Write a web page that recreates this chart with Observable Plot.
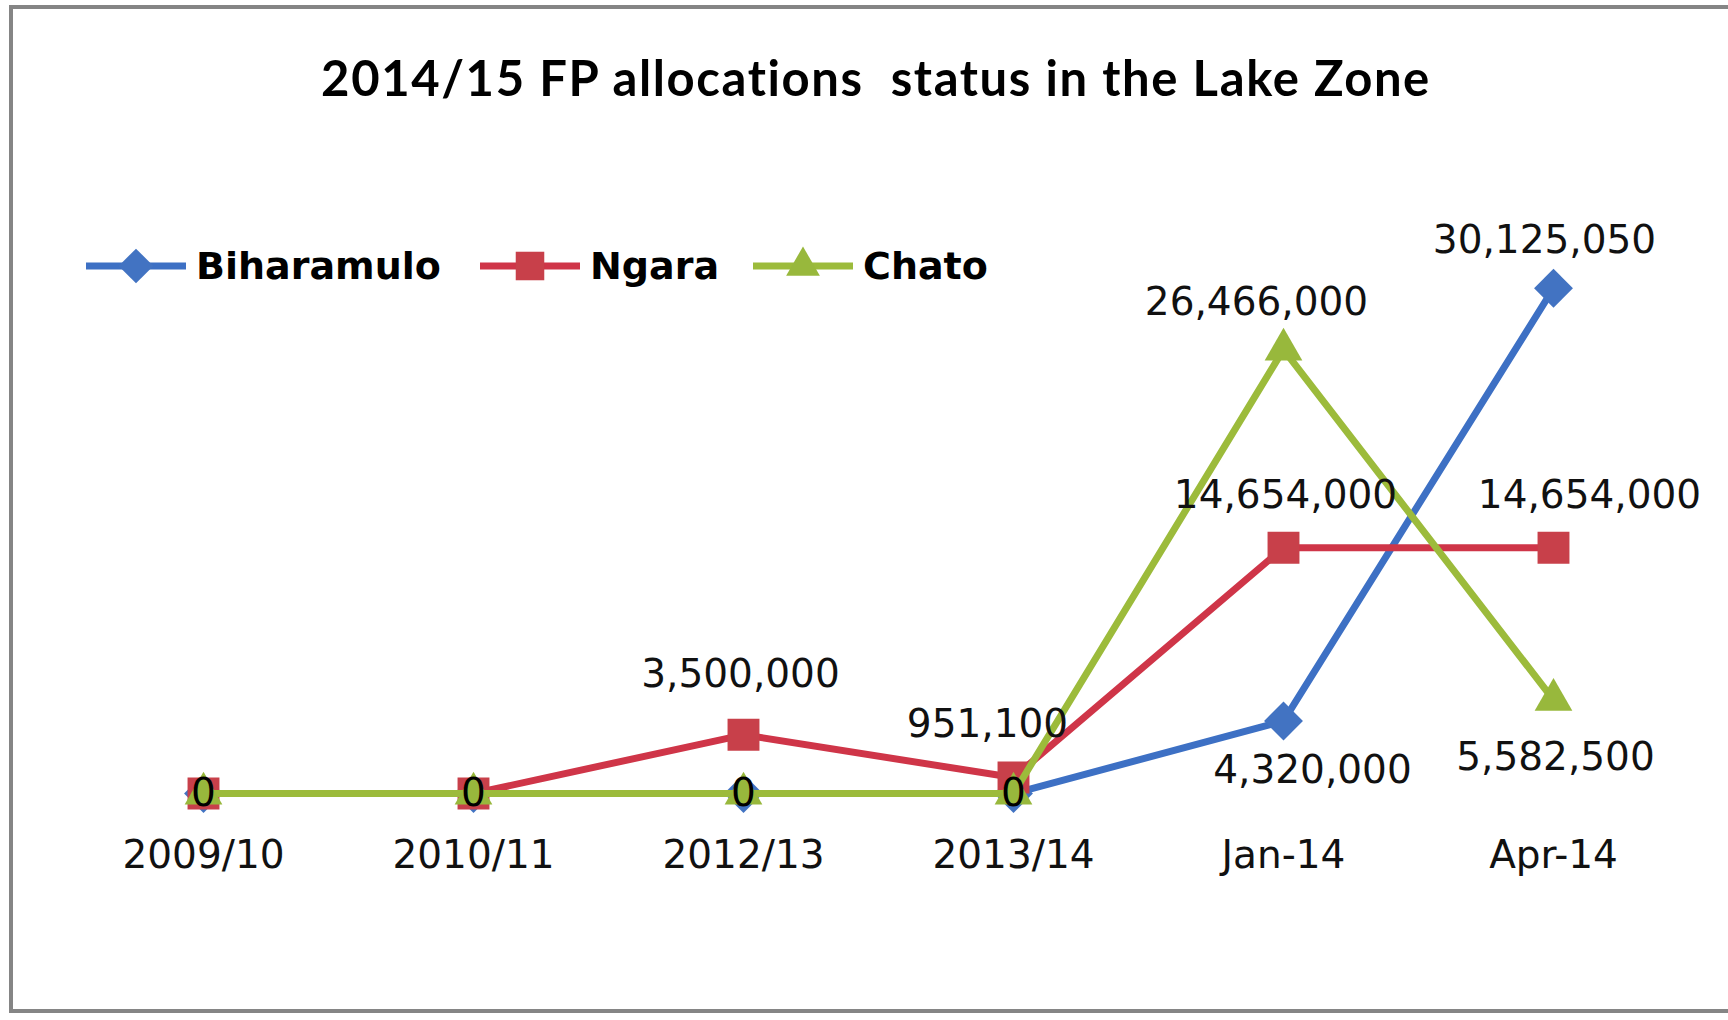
<!DOCTYPE html>
<html>
<head>
<meta charset="utf-8">
<script src="https://cdn.jsdelivr.net/npm/d3@7"></script>
<script src="https://cdn.jsdelivr.net/npm/@observablehq/plot@0.6"></script>
<style>
  html, body { margin: 0; padding: 0; background: #fff; }
  #wrap { position: relative; width: 1728px; height: 1020px; overflow: hidden; background: #fff; }
  #frame { position: absolute; left: 9px; top: 5px; width: 1760px; height: 1008px; border: 4px solid #858585; box-sizing: border-box; }
  #title { position: absolute; left: 0; width: 1752px; top: 53px; text-align: center; font-family: Lato, "Open Sans", sans-serif; font-weight: 700; font-size: 49px; line-height: 49px; letter-spacing: 1.6px; font-variant-ligatures: none; color: #000; white-space: pre; }
  #chart { position: absolute; left: 0; top: 130px; }
  .leg { position: absolute; top: 246px; height: 40px; display: flex; align-items: center; font-family: "DejaVu Sans", sans-serif; font-weight: 700; font-size: 38px; color: #000; }
  .leg svg { margin-right: 10px; }
</style>
</head>
<body>
<div id="wrap">
  <div id="frame"></div>
  <div id="title"></div>
  <div id="legend"></div>
  <div id="chart"></div>
</div>
<script>
const title = "2014/15 FP allocations  status in the Lake Zone";
const categories = ["2009/10", "2010/11", "2012/13", "2013/14", "Jan-14", "Apr-14"];
const seriesNames = ["Biharamulo", "Ngara", "Chato"];
const biharamulo = [0, 0, 0, 0, 4320000, 30125050];
const ngara = [0, 0, 3500000, 951100, 14654000, 14654000];
const chato = [0, 0, 0, 0, 26466000, 5582500];
const seriesValues = [biharamulo, ngara, chato];

const lineColors = ["#3D70C4", "#CF3548", "#9CBB3B"];
const markerColors = ["#4273C2", "#C8404A", "#98B83C"];
const symbols = ["diamond2", "square", "triangle"];
const radii = [17.5, 18, 14];

document.getElementById("title").textContent = title;

const rows = [];
seriesNames.forEach((s, i) => {
  categories.forEach((c, j) => rows.push({series: s, category: c, value: seriesValues[i][j], si: i}));
});

// label placement (style, not data): [series, category, dx, dy]
const placements = [
  ["Biharamulo", "Jan-14", 29, 49],
  ["Biharamulo", "Apr-14", -9, -48],
  ["Ngara", "2012/13", -3, -60],
  ["Ngara", "2013/14", -26, -53],
  ["Ngara", "Jan-14", 2, -52],
  ["Ngara", "Apr-14", 36, -52],
  ["Chato", "Jan-14", -27, -47],
  ["Chato", "Apr-14", 2, 58]
];
const fmt = d3.format(",");
const labelFont = {fontFamily: "DejaVu Sans, sans-serif", fontSize: 39, fill: "#111"};

const marks = [];
seriesNames.forEach((s, i) => {
  const d = rows.filter(r => r.series === s);
  marks.push(Plot.line(d, {x: "category", y: "value", stroke: lineColors[i], strokeWidth: 7, strokeLinejoin: "round"}));
  marks.push(Plot.dot(d, {x: "category", y: "value", symbol: symbols[i], r: radii[i], fill: markerColors[i], stroke: "none"}));
});
// zero labels (Chato series) drawn centered on the point
marks.push(Plot.text(rows.filter(r => r.series === "Chato" && r.value === 0), {
  x: "category", y: "value", text: r => fmt(r.value), ...labelFont, fill: "#000"
}));
placements.forEach(([s, c, dx, dy]) => {
  const d = rows.filter(r => r.series === s && r.category === c);
  marks.push(Plot.text(d, {x: "category", y: "value", text: r => fmt(r.value), dx, dy, ...labelFont}));
});
marks.push(Plot.axisX({tickSize: 0, tickPadding: 47, fontSize: 39, fontFamily: "DejaVu Sans, sans-serif", fill: "#111", label: null}));

const chart = Plot.plot({
  width: 1728,
  height: 880,
  marginLeft: 202,
  marginRight: 174,
  marginTop: 76,
  marginBottom: 217,
  x: {type: "point", domain: categories, padding: 0},
  y: {domain: [0, 35000000], axis: null},
  style: {background: "transparent", overflow: "visible"},
  marks
});
document.getElementById("chart").appendChild(chart);

// legend
const legend = document.getElementById("legend");
const legLefts = [86, 480, 753];
seriesNames.forEach((s, i) => {
  const item = document.createElement("div");
  item.className = "leg";
  item.style.left = legLefts[i] + "px";
  const svg = d3.create("svg").attr("width", 100).attr("height", 40);
  svg.append("line").attr("x1", 0).attr("x2", 100).attr("y1", 20).attr("y2", 20)
    .attr("stroke", lineColors[i]).attr("stroke-width", 7);
  const sym = {diamond2: d3.symbolDiamond2, square: d3.symbolSquare, triangle: d3.symbolTriangle}[symbols[i]];
  svg.append("path").attr("transform", "translate(50,20)")
    .attr("d", d3.symbol(sym, Math.PI * radii[i] * radii[i] * 0.8)())
    .attr("fill", markerColors[i]);
  item.appendChild(svg.node());
  const t = document.createElement("span");
  t.textContent = s;
  item.appendChild(t);
  legend.appendChild(item);
});
</script>
</body>
</html>
